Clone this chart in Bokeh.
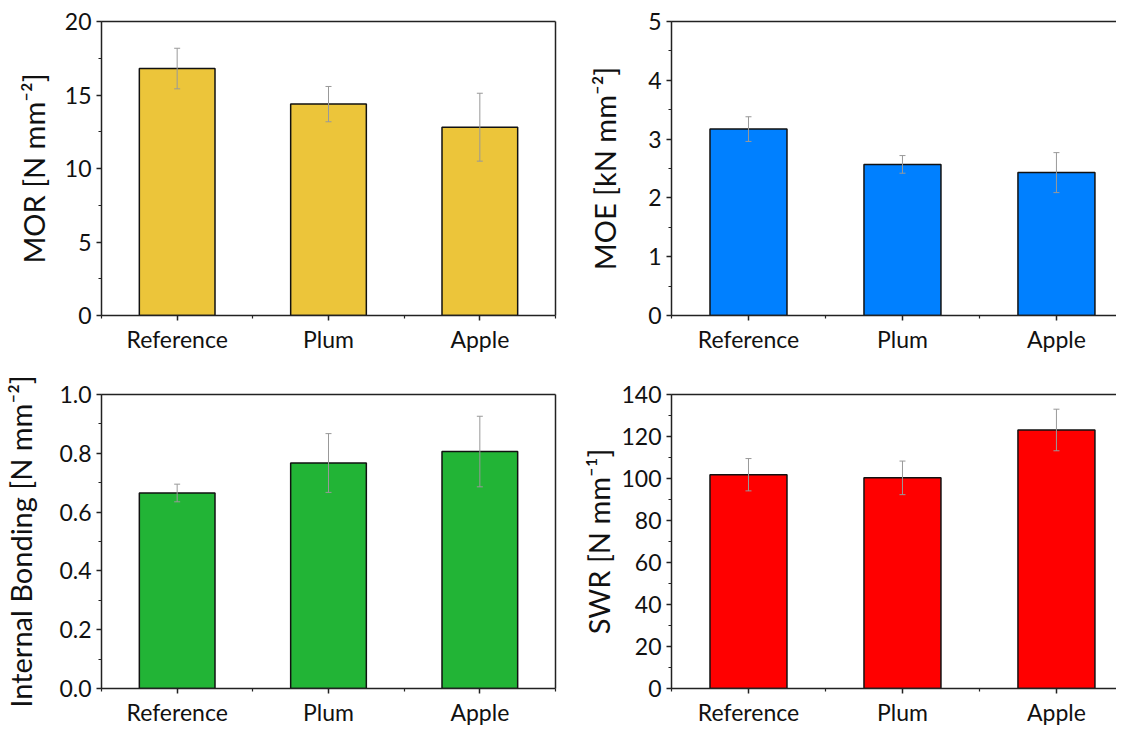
from bokeh.plotting import figure
from bokeh.models import (Range1d, FixedTicker, SingleIntervalTicker, NumeralTickFormatter,
                          Whisker, ColumnDataSource, LinearAxis)
from bokeh.layouts import gridplot
from bokeh.embed import file_html
from bokeh.resources import INLINE

# ---------------- data ----------------
categories = ["Reference", "Plum", "Apple"]

mor_values = [16.8, 14.38, 12.81]
mor_errors = [1.38, 1.20, 2.31]

moe_values = [3.17, 2.57, 2.43]
moe_errors = [0.21, 0.15, 0.34]

ib_values = [0.665, 0.767, 0.806]
ib_errors = [0.030, 0.100, 0.120]

swr_values = [101.8, 100.3, 123.1]
swr_errors = [7.7, 8.0, 9.9]

FONT = "Lato"
TEXT = "#111111"
AXIS = "#222222"
ERR = "#999999"


def frame_axis():
    return LinearAxis(ticker=FixedTicker(ticks=[]), axis_line_color=AXIS,
                      axis_line_width=1.5, major_tick_line_color=None,
                      minor_tick_line_color=None)


def make_panel(values, errors, color, ymax, interval, ylabel, fmt,
               width, height, bl, br, bt, bb, x_end, closed_right, label_standoff):
    xs = list(range(1, len(categories) + 1))
    src = ColumnDataSource(dict(
        x=xs, top=values,
        upper=[v + e for v, e in zip(values, errors)],
        lower=[v - e for v, e in zip(values, errors)],
    ))
    p = figure(width=width, height=height,
               x_range=Range1d(0.5, x_end), y_range=Range1d(0, ymax),
               output_backend="svg", toolbar_location=None,
               min_border_left=bl, min_border_right=br,
               min_border_top=bt, min_border_bottom=bb)
    p.background_fill_color = "white"
    p.border_fill_color = "white"
    p.xgrid.visible = False
    p.ygrid.visible = False
    p.outline_line_color = None

    p.vbar(x="x", top="top", bottom=0, width=0.5, source=src,
           fill_color=color, line_color="#111111", line_width=1.5)

    w = Whisker(base="x", upper="upper", lower="lower", source=src,
                line_color=ERR, line_width=1, level="overlay")
    for head in (w.upper_head, w.lower_head):
        head.size = 6
        head.line_color = ERR
        head.line_width = 1
    p.add_layout(w)

    # y axis (left)
    ya = p.left[0]
    ya.ticker = SingleIntervalTicker(interval=interval, num_minor_ticks=2)
    ya.formatter = NumeralTickFormatter(format=fmt)
    ya.axis_label = ylabel
    ya.axis_label_text_font = FONT
    ya.axis_label_text_font_size = "29px"
    ya.axis_label_text_font_style = "normal"
    ya.axis_label_text_color = TEXT
    ya.axis_label_standoff = label_standoff
    ya.major_label_text_font = FONT
    ya.major_label_text_font_size = "23px"
    ya.major_label_text_color = TEXT
    ya.major_label_standoff = 5
    ya.axis_line_color = AXIS
    ya.axis_line_width = 1.5
    ya.major_tick_line_color = AXIS
    ya.major_tick_line_width = 1.5
    ya.major_tick_in = 0
    ya.major_tick_out = 5
    ya.minor_tick_line_color = AXIS
    ya.minor_tick_line_width = 1.2
    ya.minor_tick_in = 0
    ya.minor_tick_out = 3

    # x axis (below)
    xa = p.below[0]
    xa.ticker = FixedTicker(ticks=xs, minor_ticks=[0.5, 1.5, 2.5, 3.5])
    xa.major_label_overrides = {i: c for i, c in zip(xs, categories)}
    xa.axis_line_color = AXIS
    xa.axis_line_width = 1.5
    xa.major_tick_line_color = AXIS
    xa.major_tick_line_width = 1.5
    xa.major_tick_in = 0
    xa.major_tick_out = 5
    xa.minor_tick_line_color = AXIS
    xa.minor_tick_line_width = 1.2
    xa.minor_tick_in = 0
    xa.minor_tick_out = 3
    xa.major_label_text_font = FONT
    xa.major_label_text_color = TEXT
    xa.major_label_text_font_size = "23px"
    xa.major_label_standoff = 4

    # top frame line, and right line where the panel is not cut off
    p.add_layout(frame_axis(), "above")
    if closed_right:
        p.add_layout(frame_axis(), "right")
    return p


W1, W2 = 575, 541
H1, H2 = 355, 373

p1 = make_panel(mor_values, mor_errors, "#ECC53A", 20, 5, "MOR [N mm⁻²]", "0",
                W1, H1, 94, 20, 21, 39, 3.5, True, 11)
p2 = make_panel(moe_values, moe_errors, "#0080FF", 5, 1, "MOE [kN mm⁻²]", "0",
                W2, H1, 96, 0, 21, 39, 3.39, False, 23)
p3 = make_panel(ib_values, ib_errors, "#22B436", 1.0, 0.2, "Internal Bonding [N mm⁻²]", "0.0",
                W1, H2, 94, 20, 39, 39, 3.5, True, 18)
p4 = make_panel(swr_values, swr_errors, "#FF0000", 140, 20, "SWR [N mm⁻¹]", "0",
                W2, H2, 96, 0, 39, 39, 3.39, False, 2)

grid = gridplot([[p1, p2], [p3, p4]], toolbar_location=None)

open("out.html", "w").write(file_html(grid, INLINE))
